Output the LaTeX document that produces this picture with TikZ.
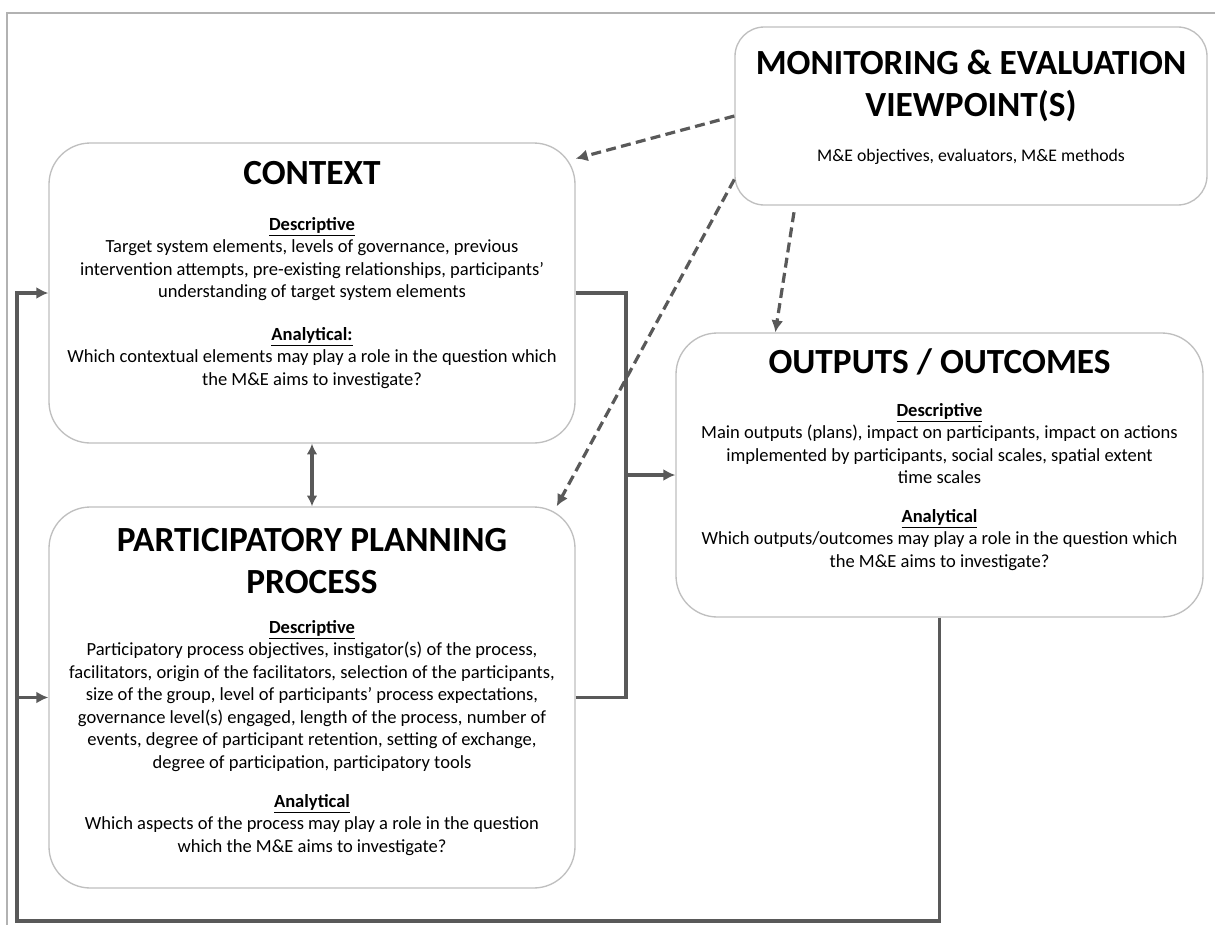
\documentclass[tikz,border=0pt]{standalone}
\usepackage{fontspec}
\setmainfont{Carlito}
\usepackage{tikz}
\usetikzlibrary{arrows.meta}

\begin{document}
\begin{tikzpicture}[x = 0.75pt, y = -0.75pt,
    riquadro/.style = {draw = black!25, line width = 1pt, rounded corners = 31pt, fill = white},
    titolo/.style = {font = \fontsize{26.5}{31.5}\selectfont\bfseries, align = center, inner sep = 0pt},
    corpo/.style = {font = \fontsize{13.9}{16.9}\selectfont, align = center, inner sep = 0pt, anchor = north},
    linea/.style = {draw = black!65, line width = 2.4pt},
    freccia/.style = {linea, -{Latex[length = 9pt, width = 9pt]}},
    tratteggio/.style = {freccia, dash pattern = on 7.5pt off 4pt}]
    \useasboundingbox (0,0) rectangle (1215,925);
    % Cornice
    \draw[black!30, line width = 1.4pt] (7,925) -- (7,13) -- (1215,13);
    % Riquadri
    \node[riquadro, minimum width = 394.5pt, minimum height = 225pt] (ctx) at (312,293) {};
    \node[riquadro, minimum width = 394.5pt, minimum height = 285.75pt] (ppp) at (312,697.5) {};
    \node[riquadro, minimum width = 395.25pt, minimum height = 213pt] (out) at (939.5,475) {};
    \node[riquadro, rounded corners = 22pt, minimum width = 354pt, minimum height = 133.5pt] (me) at (971,116) {};
    % Testi
    \node[titolo] (ctx-t) at (312,173) {CONTEXT};
    \node[corpo] (ctx-d) at (312,217) {\underline{\textbf{Descriptive}}\\
        Target system elements, levels of governance, previous\\
        intervention attempts, pre-existing relationships, participants’\\
        understanding of target system elements\\[15pt]
        \underline{\textbf{Analytical:}}\\
        Which contextual elements may play a role in the question which\\
        the M\&E aims to investigate?};
    \node[titolo] (ppp-t) at (312,561) {PARTICIPATORY PLANNING\\PROCESS};
    \node[corpo] (ppp-d) at (312,620) {\underline{\textbf{Descriptive}}\\
        Participatory process objectives, instigator(s) of the process,\\
        facilitators, origin of the facilitators, selection of the participants,\\
        size of the group, level of participants’ process expectations,\\
        governance level(s) engaged, length of the process, number of\\
        events, degree of participant retention, setting of exchange,\\
        degree of participation, participatory tools\\[12pt]
        \underline{\textbf{Analytical}}\\
        Which aspects of the process may play a role in the question\\
        which the M\&E aims to investigate?};
    \node[titolo] (out-t) at (939.5,362) {OUTPUTS / OUTCOMES};
    \node[corpo] (out-d) at (939.5,403) {\underline{\textbf{Descriptive}}\\
        Main outputs (plans), impact on participants, impact on actions\\
        implemented by participants, social scales, spatial extent\\
        time scales\\[12pt]
        \underline{\textbf{Analytical}}\\
        Which outputs/outcomes may play a role in the question which\\
        the M\&E aims to investigate?};
    \node[titolo] (me-t) at (971,86) {MONITORING \& EVALUATION\\VIEWPOINT(S)};
    \node[corpo, anchor = center, font = \fontsize{13.3}{16}\selectfont] (me-d) at (971,157) {M\&E objectives, evaluators, M\&E methods};
    % Frecce
    \coordinate (angolo) at (17,921);
    \coordinate (snodo) at (626,475);
    \draw[freccia] (out.south) |- (angolo) |- (ctx.west);
    \draw[freccia] (angolo |- ppp.west) -- (ppp.west);
    \draw[linea] (ctx.east) -| (snodo);
    \draw[linea] (ppp.east) -| (snodo);
    \draw[freccia] (snodo) -- (out.west);
    \draw[linea, {Latex[length = 8pt, width = 8pt]}-{Latex[length = 8pt, width = 8pt]}] (ctx.south) -- (ppp.north);
    \draw[tratteggio] (me.west) -- (ctx.27);
    \draw[tratteggio] (me.195) -- (ppp.38);
    \draw[tratteggio, shorten <= 5pt] (me.207) -- (out.139);
\end{tikzpicture}
\end{document}
